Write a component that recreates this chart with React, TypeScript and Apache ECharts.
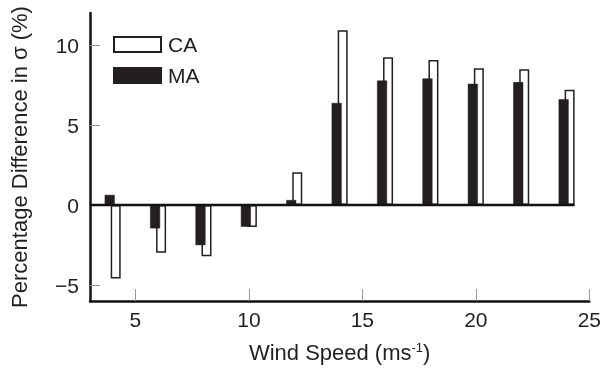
import React, { useEffect, useRef } from "react";
import * as echarts from "echarts";

const windSpeeds = [4, 6, 8, 10, 12, 14, 16, 18, 20, 22, 24];
const maValues = [0.63, -1.46, -2.51, -1.36, 0.31, 6.38, 7.78, 7.91, 7.58, 7.68, 6.61];
const caValues = [-4.6, -2.99, -3.2, -1.38, 2.05, 10.92, 9.23, 9.06, 8.54, 8.49, 7.2];
const xTicks = [5, 10, 15, 20, 25];
const yTicks = [-5, 0, 5, 10];
const zeroLine = [
  [3, 0],
  [24.35, 0],
];

const FONT = "'Liberation Sans', Arial, Helvetica, sans-serif";
const TEXT = "#231f20";
const FS = 21;
const NAME_FS = 22;

export default function App() {
  const ref = useRef<HTMLDivElement>(null);
  useEffect(() => {
    if (!ref.current) return;
    const chart = echarts.init(ref.current, undefined, { renderer: "svg" });
    chart.setOption({
      animation: false,
      grid: { left: 90, right: 13, top: 13, bottom: 68 },
      legend: {
        data: ["CA", "MA"],
        orient: "vertical",
        left: 113,
        top: 34,
        padding: 0,
        itemWidth: 47,
        itemHeight: 15,
        itemGap: 10,
        icon: "rect",
        textStyle: { fontSize: FS, color: TEXT, fontFamily: FONT, padding: [0, 0, 0, 2] },
      },
      xAxis: {
        type: "value",
        min: 3,
        max: 25,
        name: "Wind Speed (ms{sup|-1})",
        nameLocation: "middle",
        nameGap: 40,
        nameTextStyle: {
          fontSize: NAME_FS,
          color: TEXT,
          fontFamily: FONT,
          rich: {
            sup: { fontSize: 13, color: TEXT, fontFamily: FONT, verticalAlign: "bottom", padding: [0, 0, 10, 0] },
          },
        },
        axisLine: { show: true, onZero: false, lineStyle: { color: "#111", width: 2.5 } },
        axisTick: { show: true, inside: true, length: 12, customValues: xTicks, lineStyle: { color: "#999", width: 1 } },
        axisLabel: { customValues: xTicks, fontSize: FS, color: TEXT, fontFamily: FONT, margin: 8 },
        splitLine: { show: false },
      },
      yAxis: {
        type: "value",
        min: -6,
        max: 12,
        name: "Percentage Difference in σ (%)",
        nameLocation: "middle",
        nameGap: 60,
        nameTextStyle: { fontSize: NAME_FS, color: TEXT, fontFamily: FONT },
        axisLine: { show: true, onZero: false, lineStyle: { color: "#111", width: 2.5 } },
        axisTick: { show: true, inside: true, length: 10, customValues: yTicks, lineStyle: { color: "#999", width: 1 } },
        axisLabel: { customValues: yTicks, fontSize: FS, color: TEXT, fontFamily: FONT, margin: 11, formatter: (v: number) => (v < 0 ? "\u2212" + Math.abs(v) : String(v)) },
        splitLine: { show: false },
      },
      series: [
        {
          name: "MA",
          type: "bar",
          data: windSpeeds.map((w, i) => [w, maValues[i]]),
          barWidth: 10,
          barGap: "-40%",
          z: 4,
          itemStyle: { color: "#231f20", borderColor: "#231f20", borderWidth: 0.5 },
        },
        {
          name: "CA",
          type: "bar",
          data: windSpeeds.map((w, i) => [w, caValues[i]]),
          barWidth: 10,
          barGap: "-40%",
          z: 3,
          itemStyle: { color: "#ffffff", borderColor: "#231f20", borderWidth: 1.5 },
        },
        {
          name: "zero",
          type: "line",
          data: zeroLine,
          symbol: "none",
          z: 5,
          lineStyle: { color: "#111", width: 2.5 },
          silent: true,
        },
      ],
    });
    return () => chart.dispose();
  }, []);
  return <div ref={ref} style={{ position: "fixed", left: 0, top: 0, width: 604, height: 369 }} />;
}
